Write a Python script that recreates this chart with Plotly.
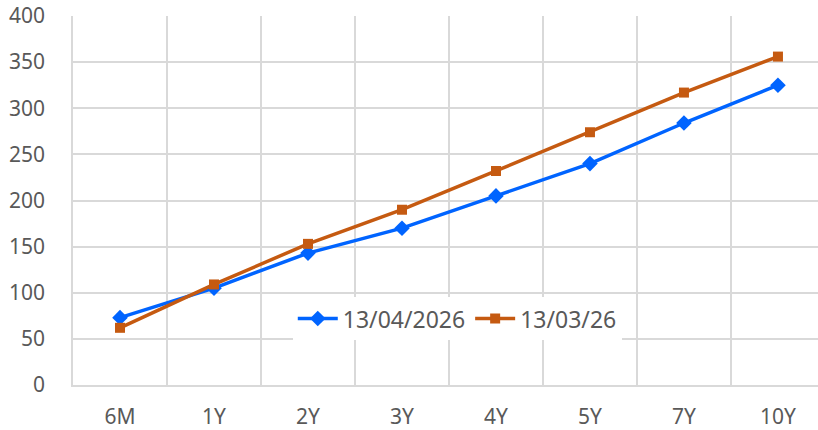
import plotly.graph_objects as go

categories = ["6M", "1Y", "2Y", "3Y", "4Y", "5Y", "7Y", "10Y"]
series_a_name = "13/04/2026"
series_a = [73, 105, 143, 170, 205, 240, 284, 325]
series_b_name = "13/03/26"
series_b = [62, 109, 153, 190, 232, 274, 317, 356]
y_ticks = [0, 50, 100, 150, 200, 250, 300, 350, 400]

font_family = "Noto Sans, Open Sans, sans-serif"
text_color = "#595959"
grid_color = "#d9d9d9"

fig = go.Figure()
fig.add_trace(go.Scatter(
    x=categories, y=series_a, name=series_a_name, mode="lines+markers",
    line=dict(color="#0064ff", width=3.5),
    marker=dict(symbol="diamond", size=12, color="#0064ff"),
))
fig.add_trace(go.Scatter(
    x=categories, y=series_b, name=series_b_name, mode="lines+markers",
    line=dict(color="#c55a11", width=3.5),
    marker=dict(symbol="square", size=10, color="#c55a11"),
))

fig.update_layout(
    width=818, height=430,
    margin=dict(l=73, r=0, t=16, b=45, autoexpand=False),
    paper_bgcolor="white", plot_bgcolor="white",
    font=dict(family=font_family, size=21, color=text_color),
    showlegend=True,
    legend=dict(
        orientation="h", x=0.295, y=0.18, xanchor="left", yanchor="middle",
        bgcolor="white", font=dict(size=23, color=text_color),
        itemwidth=40, tracegroupgap=0,
    ),
    xaxis=dict(
        type="category", range=[-0.5, 7.426], automargin=False,
        showgrid=True, gridcolor=grid_color, gridwidth=1.5,
        tickson="boundaries", ticks="", showline=True,
        linecolor=grid_color, linewidth=1.5,
        ticklabelstandoff=12, tickfont=dict(size=21, color=text_color),
        zeroline=False, fixedrange=True,
    ),
    yaxis=dict(
        range=[0, 400], tickvals=y_ticks, automargin=False,
        ticklabeloverflow="allow",
        showgrid=True, gridcolor=grid_color, gridwidth=1.5,
        showline=True, linecolor=grid_color, linewidth=1.5,
        zeroline=False, ticks="",
        ticklabelstandoff=22, tickfont=dict(size=21, color=text_color),
    ),
)

fig.write_html(
    "out.html",
    config={"displayModeBar": False},
    post_script="document.body.style.margin='0';",
)
